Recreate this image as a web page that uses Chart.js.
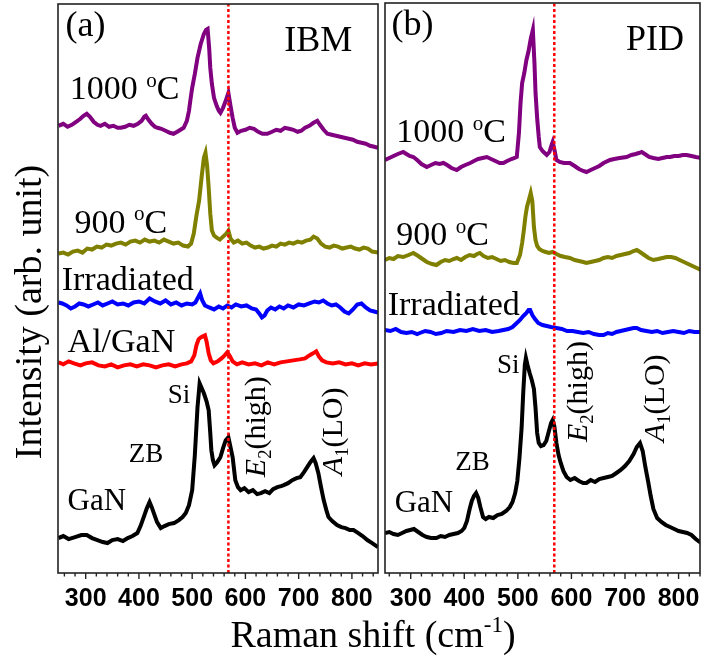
<!DOCTYPE html>
<html lang="en">
<head>
<meta charset="UTF-8">
<title>Raman</title>
<style>
  body { margin: 0; background: #fff; }
  #wrap { position: relative; width: 701px; height: 656px; }
  canvas { position: absolute; top: 0; }
  #xtitle { position: absolute; left: 0; width: 746px; top: 614px; text-align: center;
            font: 38px "Liberation Serif"; line-height: 40px; color: #000; }
  #xtitle sup { font-size: 23px; vertical-align: 15px; line-height: 0; }
</style>
</head>
<body>
<div id="wrap">
  <canvas id="chartA" width="382" height="656" style="left:0"></canvas>
  <canvas id="chartB" width="319" height="656" style="left:382px"></canvas>
  <div id="xtitle">Raman shift (cm<sup>-1</sup>)</div>
</div>
<script src="https://cdn.jsdelivr.net/npm/chart.js@4/dist/chart.umd.min.js"></script>
<script>
// Raman shift (cm-1), intensity (arb. unit, offset stacked)

// panel (a) IBM
const ibmGaN = [[249,35],[258,37],[268,34],[280,36],[292,38],[302,38],[312,35],[322,33],[332,31],[341,30],[350,33],[360,34],[370,32],[379,35],[388,37],[397,40],[403,47],[409,56],[415,65],[420,71],[424,66],[428,60],[434,51],[441,45],[448,47],[456,49],[466,50],[475,53],[482,56],[488,60],[494,68],[500,83],[505,118],[510,166],[514,190],[518,185],[522,180],[527,172],[531,163],[534,140],[536,123],[539,113],[542,108],[547,111],[553,116],[558,125],[563,133],[568,136],[572,126],[576,116],[581,93],[586,86],[591,83],[598,85],[606,81],[614,83],[622,79],[629,80],[637,82],[645,80],[652,84],[660,86],[667,87],[672,88],[680,90],[688,93],[696,95],[703,96],[710,101],[716,106],[722,111],[728,115],[732,110],[737,100],[742,86],[747,73],[752,63],[756,56],[763,52],[772,48],[780,46],[788,45],[796,43],[803,43],[812,40],[820,37],[829,33],[838,30],[849,26]];
const ibmAlGaN = [[249,211],[258,209],[268,212],[278,210],[290,208],[300,210],[312,211],[324,208],[336,207],[348,209],[360,206],[372,208],[384,209],[396,207],[408,209],[420,208],[432,206],[444,208],[456,209],[468,207],[480,209],[490,210],[498,212],[504,218],[508,228],[512,234],[516,236],[520,237],[524,238],[527,232],[531,220],[535,213],[540,210],[548,212],[555,215],[561,218],[566,221],[571,217],[576,212],[584,209],[594,211],[606,209],[618,210],[630,208],[642,211],[654,209],[666,211],[678,212],[690,213],[702,214],[712,215],[720,218],[727,220],[733,222],[738,217],[744,213],[752,211],[764,210],[776,211],[788,209],[800,210],[812,208],[824,210],[836,209],[849,210]];
const ibmIrr = [[249,271],[256,270],[264,268],[272,265],[280,267],[288,270],[296,269],[305,267],[314,269],[323,271],[332,268],[341,270],[350,272],[360,269],[370,270],[380,268],[390,271],[400,272],[410,270],[420,275],[430,272],[440,270],[450,273],[460,269],[470,271],[480,268],[490,270],[500,269],[506,271],[511,276],[515,280],[519,273],[524,268],[532,266],[541,264],[550,267],[558,265],[566,268],[574,266],[582,269],[592,267],[602,268],[612,265],[620,264],[626,260],[631,256],[636,258],[641,263],[648,266],[656,264],[664,267],[672,265],[680,268],[690,266],[700,269],[710,268],[720,270],[730,272],[738,271],[746,273],[754,270],[762,268],[770,269],[778,266],[786,262],[794,260],[802,264],[810,269],[818,270],[826,266],[834,263],[842,262],[849,261]];
const ibm900 = [[249,320],[258,321],[267,319],[276,322],[285,323],[294,321],[303,325],[312,324],[321,327],[330,326],[339,329],[348,328],[357,330],[366,331],[375,329],[384,332],[393,333],[402,331],[411,334],[420,332],[429,333],[438,331],[447,334],[456,332],[465,330],[474,331],[483,328],[492,327],[498,330],[503,340],[508,358],[513,373],[518,398],[522,416],[525,421],[528,408],[531,386],[534,360],[537,343],[541,338],[546,336],[552,334],[558,337],[564,340],[568,343],[572,335],[578,331],[586,333],[594,330],[602,331],[610,328],[618,326],[626,327],[634,325],[642,326],[650,328],[658,327],[666,330],[674,329],[682,331],[690,330],[698,332],[706,331],[714,333],[722,334],[728,337],[735,335],[742,330],[750,327],[758,326],[766,328],[774,327],[782,325],[790,326],[798,327],[806,325],[814,324],[822,326],[830,325],[838,322],[849,321]];
const ibm1000 = [[249,448],[258,450],[266,447],[274,449],[282,452],[290,455],[296,458],[302,460],[308,457],[315,452],[322,449],[328,448],[336,450],[344,447],[352,448],[360,446],[366,446],[374,447],[382,449],[390,448],[398,450],[405,453],[410,457],[413,458],[418,454],[424,450],[430,447],[435,446],[442,445],[450,443],[458,441],[465,440],[472,442],[478,444],[484,446],[490,453],[494,463],[497,475],[500,486],[505,500],[510,516],[516,530],[522,540],[526,544],[529,545],[532,525],[534,506],[537,490],[541,476],[546,468],[550,463],[553,461],[558,466],[563,473],[568,481],[572,468],[576,456],[580,446],[585,441],[592,443],[600,444],[608,446],[616,445],[624,442],[632,440],[641,440],[650,442],[658,444],[666,443],[674,446],[682,445],[690,444],[698,442],[705,443],[712,446],[720,448],[728,451],[735,453],[740,449],[747,444],[754,440],[762,439],[770,438],[778,437],[786,436],[794,435],[802,434],[810,432],[818,431],[826,430],[834,428],[842,427],[849,426]];

// panel (b) PID
const pidGaN = [[252,40],[260,41],[268,39],[276,38],[284,40],[292,42],[299,43],[306,44],[314,41],[322,38],[330,36],[338,35],[348,35],[356,37],[364,36],[372,38],[380,39],[388,40],[395,42],[400,45],[405,52],[410,64],[414,72],[418,77],[422,80],[426,75],[430,66],[435,56],[440,54],[446,56],[454,55],[462,58],[470,59],[478,62],[485,66],[490,71],[495,80],[499,92],[503,115],[507,145],[510,180],[513,208],[515,215],[518,208],[522,200],[526,193],[530,184],[533,165],[536,140],[539,130],[543,127],[548,128],[553,132],[558,142],[562,150],[565,153],[568,147],[572,130],[576,118],[580,110],[585,102],[591,96],[598,93],[606,95],[614,92],[622,90],[628,90],[636,93],[644,91],[652,94],[660,95],[668,96],[676,97],[684,100],[692,103],[700,107],[708,112],[716,119],[722,126],[728,130],[733,122],[738,106],[743,92],[748,77],[753,64],[760,55],[768,51],[776,48],[784,46],[792,44],[800,42],[808,41],[816,40],[824,38],[832,34],[842,30]];
const pidIrr = [[252,243],[262,242],[272,244],[282,241],[292,240],[302,241],[312,239],[317,240],[327,242],[337,241],[347,239],[357,240],[367,242],[380,241],[392,243],[404,242],[416,244],[428,242],[440,243],[452,241],[464,242],[473,243],[482,244],[490,246],[498,250],[504,253],[510,257],[516,260],[520,263],[523,263],[527,258],[532,254],[538,250],[546,248],[554,247],[562,246],[572,245],[582,244],[592,242],[602,242],[612,241],[622,240],[632,241],[642,239],[652,238],[660,238],[668,240],[676,239],[684,241],[692,242],[700,243],[708,244],[716,245],[722,245],[730,243],[740,242],[750,241],[760,242],[770,240],[780,241],[790,242],[800,241],[810,240],[820,242],[830,241],[842,241]];
const pid900 = [[252,313],[260,315],[268,314],[276,317],[286,316],[296,318],[305,320],[314,317],[322,314],[330,311],[340,309],[348,308],[356,311],[364,313],[372,312],[380,314],[386,315],[394,313],[402,316],[410,318],[418,317],[424,319],[429,320],[436,317],[444,315],[452,316],[460,314],[468,312],[476,313],[484,311],[492,310],[498,310],[504,318],[508,330],[511,342],[514,356],[517,366],[520,372],[524,380],[527,372],[530,346],[533,333],[536,327],[540,324],[546,322],[552,321],[558,320],[565,321],[572,319],[580,317],[588,316],[597,315],[606,313],[614,312],[622,311],[628,310],[636,311],[644,312],[652,313],[660,315],[668,316],[676,315],[684,317],[692,318],[700,319],[708,320],[716,322],[722,323],[728,321],[736,318],[744,315],[753,313],[762,314],[770,315],[778,316],[786,316],[794,315],[802,313],[810,311],[818,309],[826,307],[834,305],[842,303]];
const pid1000 = [[252,413],[260,415],[268,417],[276,419],[286,421],[292,419],[298,417],[305,416],[312,413],[320,409],[330,406],[338,408],[346,410],[354,409],[361,410],[368,408],[376,405],[386,403],[394,406],[402,408],[411,410],[418,412],[426,414],[434,415],[442,416],[450,414],[458,412],[466,410],[473,410],[480,412],[488,414],[494,415],[498,416],[502,440],[505,470],[508,490],[512,500],[516,513],[520,522],[524,534],[528,543],[531,510],[533,480],[536,455],[539,436],[541,426],[546,422],[550,420],[554,418],[559,421],[563,428],[565,431],[568,424],[572,413],[578,411],[586,410],[597,410],[606,407],[614,404],[622,402],[628,401],[636,403],[644,405],[652,407],[660,410],[672,413],[680,414],[690,415],[703,416],[712,418],[720,419],[726,420],[731,421],[737,419],[745,416],[753,415],[762,414],[770,415],[778,416],[784,416],[792,417],[800,417],[808,418],[815,418],[824,417],[832,416],[842,415]];

// E2(high) marker position
const e2Shift = 568;
const xRangeA = [248, 849];
const xRangeB = [252, 840];
const yRange = [0, 570];

const serif = '"Liberation Serif", "Times New Roman", serif';

// text labels: x,y in data units (left end of baseline)
const labelsA = [
  { s: [{ t: '(a)' }], x: 262, y: 538, size: 36 },
  { s: [{ t: 'IBM' }], x: 673, y: 523, size: 36 },
  { s: [{ t: '1000 ' }, { t: 'o', sup: 1 }, { t: 'C' }], x: 270, y: 475, size: 34 },
  { s: [{ t: '900 ' }, { t: 'o', sup: 1 }, { t: 'C' }], x: 279, y: 341, size: 34 },
  { s: [{ t: 'Irradiated' }], x: 255, y: 283, size: 34 },
  { s: [{ t: 'Al/GaN' }], x: 266, y: 221, size: 34 },
  { s: [{ t: 'Si' }], x: 454, y: 170, size: 27 },
  { s: [{ t: 'ZB' }], x: 381, y: 111, size: 27 },
  { s: [{ t: 'GaN' }], x: 266, y: 63, size: 31 },
  { s: [{ t: 'E', it: 1 }, { t: '2', sub: 1 }, { t: '(high)' }], x: 637, y: 96, size: 30, rot: 1 },
  { s: [{ t: 'A', it: 1 }, { t: '1', sub: 1 }, { t: '(LO)' }], x: 782, y: 98, size: 30, rot: 1 }
];
const labelsB = [
  { s: [{ t: '(b)' }], x: 264, y: 538, size: 36 },
  { s: [{ t: 'PID' }], x: 702, y: 523, size: 36 },
  { s: [{ t: '1000 ' }, { t: 'o', sup: 1 }, { t: 'C' }], x: 273, y: 431, size: 34 },
  { s: [{ t: '900 ' }, { t: 'o', sup: 1 }, { t: 'C' }], x: 273, y: 328, size: 34 },
  { s: [{ t: 'Irradiated' }], x: 257, y: 258, size: 34 },
  { s: [{ t: 'Si' }], x: 461, y: 200, size: 27 },
  { s: [{ t: 'ZB' }], x: 383, y: 103, size: 27 },
  { s: [{ t: 'GaN' }], x: 270, y: 61, size: 31 },
  { s: [{ t: 'E', it: 1 }, { t: '2', sub: 1 }, { t: '(high)' }], x: 629, y: 131, size: 30, rot: 1 },
  { s: [{ t: 'A', it: 1 }, { t: '1', sub: 1 }, { t: '(LO)' }], x: 773, y: 131, size: 30, rot: 1 }
];

function toPts(arr) {
  return arr.map(p => ({ x: p[0], y: p[1] }));
}

function richText(ctx, segs, x, y, size) {
  let cx = x;
  segs.forEach(s => {
    const small = s.sub || s.sup;
    const fs = small ? size * 0.62 : size;
    ctx.font = (s.it ? 'italic ' : '') + fs + 'px ' + serif;
    const dy = s.sup ? -size * 0.36 : (s.sub ? size * 0.2 : 0);
    ctx.fillText(s.t, cx, y + dy);
    cx += ctx.measureText(s.t).width;
  });
}

// frame, bottom ticks, labels
const decoPlugin = {
  id: 'deco',
  afterDraw(chart, args, opts) {
    const ctx = chart.ctx;
    const a = chart.chartArea;
    const xs = chart.scales.x, ys = chart.scales.y;
    ctx.save();
    ctx.strokeStyle = '#222';
    ctx.lineWidth = 1.6;
    ctx.strokeRect(a.left, a.top, a.right - a.left, a.bottom - a.top);
    ctx.lineWidth = 1.4;
    for (let v = 260; v <= 840; v += 20) {
      if (v < xs.min || v > xs.max) continue;
      const px = xs.getPixelForValue(v);
      ctx.beginPath();
      ctx.moveTo(px, a.bottom);
      ctx.lineTo(px, a.bottom + (v % 100 === 0 ? 6 : 3.5));
      ctx.stroke();
    }
    ctx.fillStyle = '#000';
    ctx.textBaseline = 'alphabetic';
    ctx.textAlign = 'left';
    opts.labels.forEach(l => {
      const px = xs.getPixelForValue(l.x);
      const py = ys.getPixelForValue(l.y);
      if (l.rot) {
        ctx.save();
        ctx.translate(px, py);
        ctx.rotate(-Math.PI / 2);
        richText(ctx, l.s, 0, 0, l.size);
        ctx.restore();
      } else {
        richText(ctx, l.s, px, py, l.size);
      }
    });
    if (opts.ytitle) {
      ctx.save();
      ctx.translate(opts.ytitle.x, opts.ytitle.y);
      ctx.rotate(-Math.PI / 2);
      ctx.textAlign = 'center';
      ctx.textBaseline = 'middle';
      ctx.font = '38px ' + serif;
      ctx.fillText(opts.ytitle.text, 0, 0);
      ctx.restore();
    }
    ctx.restore();
  }
};

function line(data, color) {
  return {
    data: toPts(data),
    borderColor: color,
    borderWidth: 4,
    pointRadius: 0,
    tension: 0,
    fill: false
  };
}

function marker(x) {
  return {
    data: [{ x: x, y: yRange[0] }, { x: x, y: yRange[1] }],
    borderColor: '#ff0000',
    borderWidth: 2.5,
    borderDash: [3, 2.5],
    pointRadius: 0,
    fill: false
  };
}

function makeChart(id, series, xr, pad, labels, ytitle) {
  return new Chart(document.getElementById(id), {
    type: 'line',
    data: { datasets: series },
    options: {
      responsive: false,
      animation: false,
      devicePixelRatio: 1,
      layout: { padding: pad },
      plugins: {
        legend: { display: false },
        tooltip: { enabled: false },
        deco: { labels: labels, ytitle: ytitle }
      },
      scales: {
        x: {
          type: 'linear',
          min: xr[0],
          max: xr[1],
          afterFit: s => { s.height = 83; },
          grid: { display: true, drawOnChartArea: false, drawTicks: true, tickLength: 11,
                  color: 'rgba(0,0,0,0)', tickColor: 'rgba(0,0,0,0)' },
          border: { display: false },
          ticks: {
            stepSize: 20,
            autoSkip: false,
            maxRotation: 0,
            padding: 0,
            color: '#000',
            font: { family: 'Liberation Sans', size: 25, weight: 'bold' },
            callback: v => (v % 100 === 0 ? v : '')
          }
        },
        y: { display: false, min: yRange[0], max: yRange[1] }
      }
    },
    plugins: [decoPlugin]
  });
}

makeChart('chartA', [
  marker(e2Shift),
  line(ibmGaN, '#000000'),
  line(ibmAlGaN, '#ff0000'),
  line(ibmIrr, '#0000ff'),
  line(ibm900, '#808000'),
  line(ibm1000, '#800080')
], xRangeA, { left: 58, right: 4, top: 4, bottom: 0 }, labelsA,
  { text: 'Intensity (arb. unit)', x: 31, y: 312 });

makeChart('chartB', [
  marker(e2Shift),
  line(pidGaN, '#000000'),
  line(pidIrr, '#0000ff'),
  line(pid900, '#808000'),
  line(pid1000, '#800080')
], xRangeB, { left: 3, right: 1, top: 3, bottom: 0 }, labelsB, null);
</script>
</body>
</html>
